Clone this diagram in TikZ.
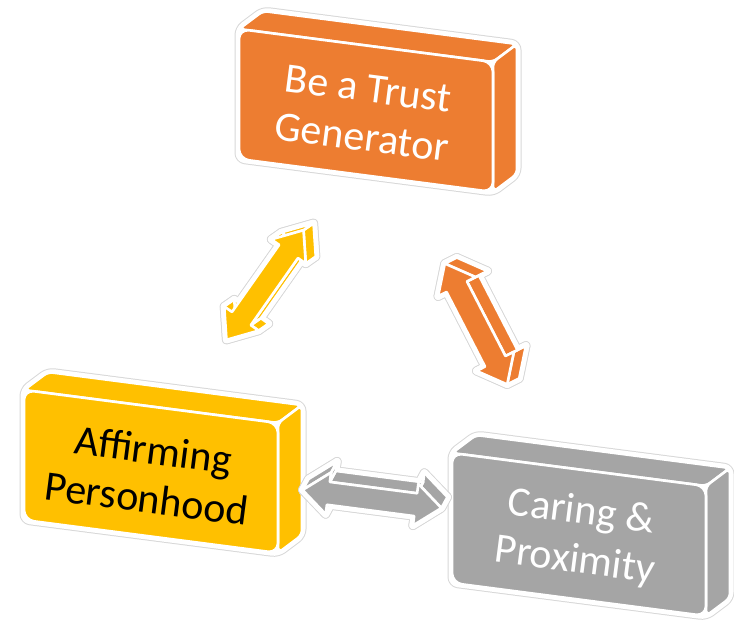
\documentclass[tikz,border=0pt]{standalone}
\usepackage{fontspec}
\setmainfont{Carlito}
\usetikzlibrary{calc}
\definecolor{cOrange}{HTML}{ED7D31}
\definecolor{cYellow}{HTML}{FFC000}
\definecolor{cGray}{HTML}{A5A5A5}
\definecolor{cHalo}{HTML}{D8D8D8}
\tikzset{
  halo/.style={draw=cHalo, fill=cHalo, line width=9pt, line join=round},
  haloin/.style={draw=white, fill=white, line width=7pt, line join=round},
  face/.style={fill=#1, draw=white, line width=2.6pt, line join=round},
  blocktext/.style={font=\fontsize{42}{49}\selectfont, align=center, rotate=-7.4, inner sep=0pt},
}
\newcommand\arrowpieces[2]{%
  \path[#2] ($(#1-1)+(#1-d)$) \foreach \k in {2,...,10}{ -- ($(#1-\k)+(#1-d)$)} -- cycle;
  \foreach \i/\j in {1/2,2/3,3/4,4/5,5/6,6/7,7/8,8/9,9/10,10/1}{%
    \path[#2] (#1-\i) -- (#1-\j) -- ($(#1-\j)+(#1-d)$) -- ($(#1-\i)+(#1-d)$) -- cycle;}
  \path[#2] (#1-1) \foreach \k in {2,...,10}{ -- (#1-\k)} -- cycle;
}
\newcommand\dblarrow[6]{%
  \pgfmathsetmacro\hl{#4/2}%
  \pgfmathsetmacro\hb{#4/2-26}%
  \begin{scope}[shift={(#2)}, rotate=#3]
    \coordinate (#1-1) at (-\hl,0);
    \coordinate (#1-2) at (-\hb,21);
    \coordinate (#1-3) at (-\hb,11.5);
    \coordinate (#1-4) at (\hb,11.5);
    \coordinate (#1-5) at (\hb,21);
    \coordinate (#1-6) at (\hl,0);
    \coordinate (#1-7) at (\hb,-21);
    \coordinate (#1-8) at (\hb,-11.5);
    \coordinate (#1-9) at (-\hb,-11.5);
    \coordinate (#1-10) at (-\hb,-21);
  \end{scope}
  \coordinate (#1-d) at (#5);
  \arrowpieces{#1}{halo}
  \arrowpieces{#1}{haloin}
  \arrowpieces{#1}{face=#6}
}
\newcommand\block[5]{%
  \begin{scope}[shift={(#2)}]
    \path[halo, rounded corners=6pt] (0,0) -- (24,-18) -- (278,15) -- (278,145) -- (254,163) -- (0,130) -- cycle;
    \path[haloin, rounded corners=6pt] (0,0) -- (24,-18) -- (278,15) -- (278,145) -- (254,163) -- (0,130) -- cycle;
    \path[face=#3, rounded corners=5pt] (0,0) -- (24,-18) -- (278,15) -- (254,33) -- cycle;
    \path[face=#3, rounded corners=5pt] (254,33) -- (278,15) -- (278,145) -- (254,163) -- cycle;
    \path[face=#3, rounded corners=10pt] (0,0) -- (254,33) -- (254,163) -- (0,130) -- cycle;
    \node[blocktext, text=#4] (#1) at (126,84) {#5};
  \end{scope}
}
\begin{document}
\begin{tikzpicture}[x=1pt, y=-1pt]
  \useasboundingbox (0,0) rectangle (734,622);
  \block{trust}{239,29}{cOrange}{white}{Be a Trust\\Generator}
  \block{affirm}{24,390}{cYellow}{black}{Affirming\\Personhood}
  \block{caring}{452,453}{cGray}{white}{Caring \&\\Proximity}
  \dblarrow{ya}{265,285}{54.9}{134}{10,-7}{cYellow}
  \dblarrow{oa}{476,324}{-62.7}{136}{12,-6}{cOrange}
  \dblarrow{ga}{372,499}{-7.4}{140}{6,-11}{cGray}
\end{tikzpicture}
\end{document}
